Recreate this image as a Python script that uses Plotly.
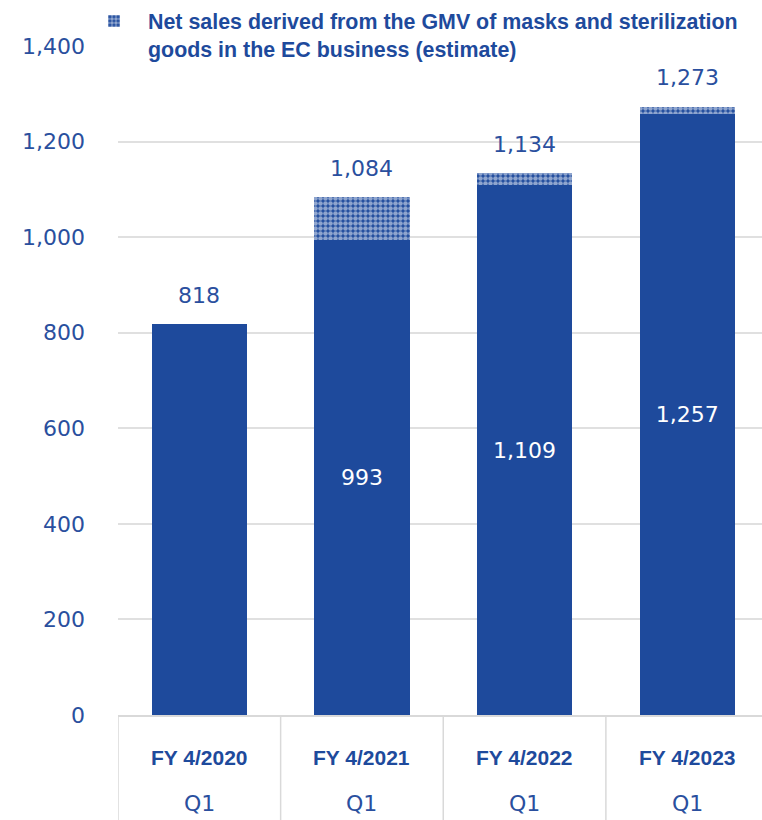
import plotly.graph_objects as go

categories = ["FY 4/2020", "FY 4/2021", "FY 4/2022", "FY 4/2023"]
quarters = ["Q1", "Q1", "Q1", "Q1"]
base_sales = [818, 993, 1109, 1257]
mask_sales = [0, 91, 25, 16]
totals = [818, 1084, 1134, 1273]
inside_labels = ["", "993", "1,109", "1,257"]
tick_vals = [0, 200, 400, 600, 800, 1000, 1200, 1400]
tick_text = ["0", "200", "400", "600", "800", "1,000", "1,200", "1,400"]

BAR = "#1E4A9C"
TXT = "#2A4F9E"
GRID = "#E0E0E0"

fig = go.Figure()
fig.add_trace(go.Bar(
    x=categories, y=base_sales, name="Net sales",
    marker=dict(color=BAR, line=dict(width=0)),
    text=inside_labels, textposition="inside", insidetextanchor="middle",
    textfont=dict(family="DejaVu Sans", size=22, color="white"),
    showlegend=False, hoverinfo="skip",
))
fig.add_trace(go.Bar(
    x=categories, y=mask_sales,
    name="Net sales derived from the GMV of masks and sterilization<br>goods in the EC business (estimate)",
    marker=dict(color=BAR, line=dict(width=0),
                pattern=dict(shape=".", fgcolor="white", bgcolor=BAR, size=5, solidity=0.65)),
    showlegend=True, hoverinfo="skip",
))

annotations = []
for c, t in zip(categories, totals):
    annotations.append(dict(x=c, y=t, xref="x", yref="y", text=f"{t:,}", showarrow=False,
                            yshift=29, yanchor="middle",
                            font=dict(family="DejaVu Sans", size=22, color=TXT)))
for c, q in zip(categories, quarters):
    annotations.append(dict(x=c, y=0, xref="x", yref="paper", text=f"<b>{c}</b>", showarrow=False,
                            yshift=-42, yanchor="middle",
                            font=dict(family="Liberation Sans, Arial", size=21, color=BAR)))
    annotations.append(dict(x=c, y=0, xref="x", yref="paper", text=q, showarrow=False,
                            yshift=-88, yanchor="middle",
                            font=dict(family="DejaVu Sans", size=22, color=TXT)))

shapes = []
for i in range(len(categories)):
    shapes.append(dict(type="line", xref="x", yref="paper", x0=i - 0.5, x1=i - 0.5,
                       y0=0, y1=-0.2, line=dict(color="#D9D9D9", width=1.5)))

fig.update_layout(
    width=762, height=820,
    margin=dict(l=118, r=0, t=46, b=105, autoexpand=False),
    paper_bgcolor="white", plot_bgcolor="white",
    barmode="stack", bargap=0.415,
    annotations=annotations, shapes=shapes,
    legend=dict(x=-0.059, y=1.068, itemwidth=58,
                xanchor="left", yanchor="top", valign="top",
                bgcolor="rgba(255,255,255,0)",
                font=dict(family="Liberation Sans, Arial", size=21.4, color=BAR, weight="bold")),
    xaxis=dict(range=[-0.5, 3.46], showticklabels=False, showgrid=False,
               showline=True, linecolor="#D9D9D9", linewidth=1.5, ticks=""),
    yaxis=dict(range=[0, 1400], tickvals=tick_vals, ticktext=tick_text,
               showgrid=True, gridcolor=GRID, gridwidth=1.5, zeroline=False,
               ticks="", ticklabelstandoff=32,
               tickfont=dict(family="DejaVu Sans", size=22, color=TXT)),
)

fig.write_html("out.html")
